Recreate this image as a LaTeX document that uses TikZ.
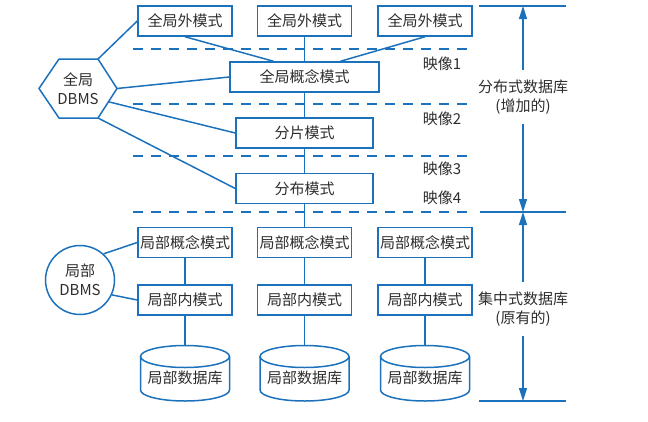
\documentclass[tikz,border=0pt]{standalone}
\usepackage{fontspec}
\setmainfont{Noto Sans CJK SC}
\usetikzlibrary{arrows.meta,calc}
\definecolor{dbblue}{RGB}{28,113,188}
\definecolor{txtgray}{RGB}{45,45,45}

\begin{document}
\begin{tikzpicture}[x=1pt,y=-1pt,
  every node/.style={text=txtgray,font=\fontsize{15}{19}\selectfont},
  box/.style={draw=dbblue,line width=1.5pt,minimum width=94pt,minimum height=30pt,inner sep=0pt},
  ln/.style={dbblue,line width=1.5pt},
  dsh/.style={dbblue,line width=1.5pt,dash pattern=on 10pt off 8pt},
  dimarr/.style={dbblue,line width=1.3pt,-{Triangle[length=13pt,width=8pt]}}]

\useasboundingbox (0,0) rectangle (648,421);

% global schemas
\node[box] (ext1) at (185,21) {全局外模式};
\node[box] (ext2) at (304.5,21) {全局外模式};
\node[box] (ext3) at (425,21) {全局外模式};
\node[box,minimum width=149pt] (gc) at (304.5,77) {全局概念模式};
\node[box,minimum width=137pt] (frag) at (304.5,133) {分片模式};
\node[box,minimum width=137pt] (dist) at (304.5,188.5) {分布模式};

\draw[ln] (ext1.south) -- ($(gc.north)+(-31,0)$);
\draw[ln] (ext3.south) -- ($(gc.north)+(36,0)$);

\draw[dsh] (133,49) -- (473,49);
\draw[dsh] (133,104) -- (473,104);
\draw[dsh] (133,156) -- (473,156);
\draw[dsh] (133,212) -- (473,212);

\node (map1) at (442,64) {映像1};
\node (map2) at (442,119) {映像2};
\node (map3) at (442,169) {映像3};
\node (map4) at (442,198) {映像4};

% global DBMS
\coordinate (hw) at (39,88.5);\coordinate (hnw) at (59,59);\coordinate (hne) at (98,59);
\coordinate (he) at (117,88.5);\coordinate (hse) at (98,118);\coordinate (hsw) at (59,118);
\draw[ln] (hw) -- (hnw) -- (hne) -- (he) -- (hse) -- (hsw) -- cycle;
\node[align=center] (gdbms) at (78,88.5) {全局\\DBMS};

\draw[ln] (hne) -- (ext1.west);
\draw[ln] (he) -- (gc.west);
\draw[ln] ($(he)!0.45!(hse)$) -- (frag.west);
\draw[ln] (hse) -- (dist.west);

% local schemas
\foreach \i/\x in {1/185,2/304.5,3/425}{
  \node[box] (lc\i) at (\x,242.5) {局部概念模式};
  \node[box] (li\i) at (\x,300) {局部内模式};
  \draw[ln] (\x-44.5,356.5) -- (\x-44.5,390) arc[start angle=180,end angle=0,x radius=44.5,y radius=11] -- (\x+44.5,356.5);
  \draw[ln] (\x,356.5) ellipse[x radius=44.5,y radius=11];
  \coordinate (db\i top) at (\x,345.5);
  \node (db\i) at (\x,378) {局部数据库};
  \draw[ln] (lc\i) -- (li\i);
  \draw[ln] (li\i) -- (db\i top);
}

\draw[ln] (ext2) -- (gc) -- (frag) -- (dist) -- (lc2);

% local DBMS
\node[draw=dbblue,line width=1.5pt,circle,minimum size=69pt,inner sep=0pt,align=center] (ldbms) at (80,280) {局部\\DBMS};
\draw[ln] (ldbms.48) -- (lc1.west);
\draw[ln] (ldbms.-25) -- (li1.west);

% right side
\coordinate (dtop) at (523,6);\coordinate (dmid) at (523,212);\coordinate (dbot) at (523,401);
\draw[ln] (479,6) -- (566,6);
\draw[ln] (480,212) -- (566,212);
\draw[ln] (479,401) -- (566,401);

\node[align=center,inner sep=0pt,minimum height=53pt] (ddb) at (523,97) {分布式数据库\\(增加的)};
\node[align=center,inner sep=0pt,minimum height=54pt] (cdb) at (523,309) {集中式数据库\\(原有的)};

\draw[dimarr] (ddb.north) -- (dtop);
\draw[dimarr] (ddb.south) -- (dmid);
\draw[dimarr] (cdb.north) -- (dmid);
\draw[dimarr] (cdb.south) -- (dbot);

\end{tikzpicture}
\end{document}
